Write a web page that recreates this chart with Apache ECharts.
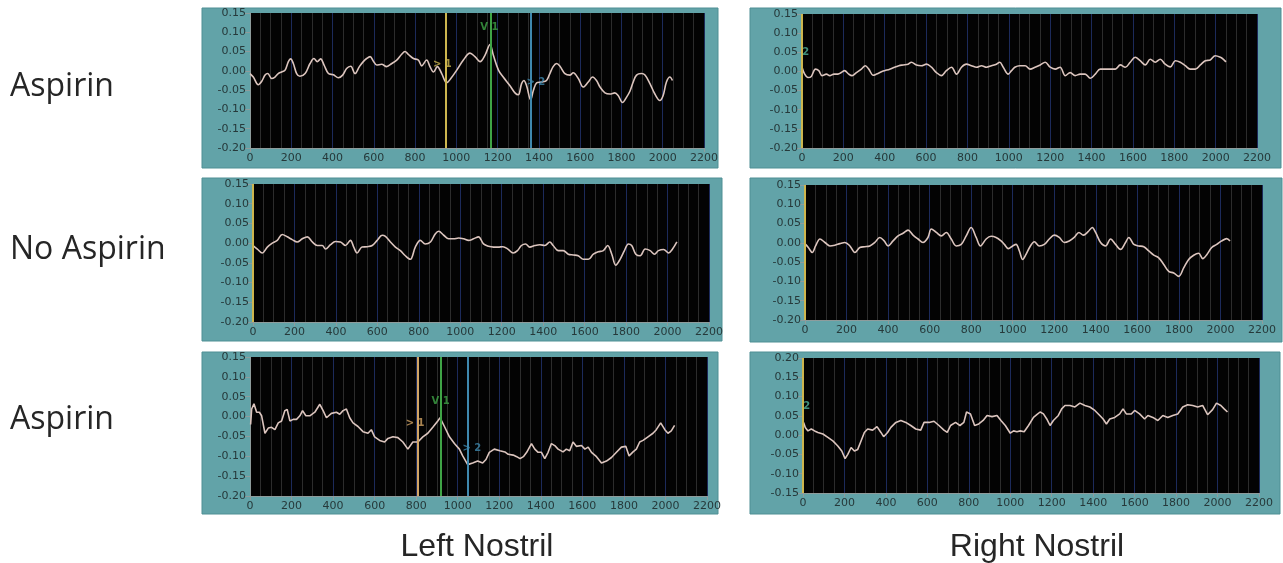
<!DOCTYPE html>
<html>
<head>
<meta charset="utf-8">
<script src="https://cdn.jsdelivr.net/npm/echarts@6/dist/echarts.min.js"></script>
<style>
  html, body { margin: 0; padding: 0; background: #fff; }
  #chart { width: 1283px; height: 563px; }
</style>
</head>
<body>
<div id="chart"></div>
<script>
// x ticks / y ticks
const xTicks = [0, 2200, 200]
const yRangeA = [-0.2, 0.15]
const yRangeB = [-0.15, 0.2]

const rowLabels = ['Aspirin', 'No Aspirin', 'Aspirin']
const colLabels = ['Left Nostril', 'Right Nostril']

// traces, [x, value]
const leftTop = [[0,-0.007],[16,-0.016],[40,-0.036],[57,-0.027],[73,-0.011],[86,-0.007],[105,-0.020],[121,-0.016],[137,-0.007],[153,-0.003],[170,0.002],[186,0.024],[197,0.031],[210,0.019],[226,-0.007],[242,-0.014],[267,-0.007],[291,0.019],[310,0.032],[326,0.024],[342,0.031],[359,0.015],[380,-0.007],[404,-0.010],[428,-0.018],[449,-0.011],[468,0.006],[488,0.012],[509,-0.007],[530,0.011],[549,0.024],[565,0.032],[582,0.037],[598,0.025],[614,0.015],[638,0.017],[662,0.011],[687,0.019],[711,0.028],[735,0.043],[751,0.050],[767,0.043],[792,0.032],[816,0.028],[832,0.013],[856,0.028],[872,0.011],[889,-0.003],[908,0.011],[929,-0.007],[953,-0.031],[973,-0.020],[1002,0.002],[1034,0.028],[1066,0.046],[1090,0.037],[1115,0.024],[1139,0.041],[1163,0.068],[1179,0.041],[1204,0.002],[1227,-0.016],[1259,-0.038],[1284,-0.057],[1300,-0.062],[1316,-0.033],[1327,-0.025],[1340,-0.038],[1360,-0.075],[1373,-0.051],[1389,-0.031],[1413,-0.029],[1437,-0.025],[1453,-0.007],[1469,0.011],[1486,0.019],[1502,0.012],[1526,-0.007],[1550,-0.011],[1566,-0.005],[1591,-0.020],[1615,-0.042],[1639,-0.029],[1660,-0.016],[1679,-0.025],[1696,-0.042],[1720,-0.057],[1744,-0.060],[1768,-0.057],[1784,-0.064],[1805,-0.082],[1825,-0.068],[1841,-0.053],[1857,-0.029],[1873,-0.011],[1897,-0.007],[1914,-0.011],[1938,-0.033],[1962,-0.060],[1986,-0.077],[2002,-0.064],[2018,-0.029],[2035,-0.016],[2047,-0.025]]

const rightTop = [[0,0.011],[13,-0.007],[29,-0.016],[45,-0.013],[65,0.006],[81,0.002],[97,-0.011],[118,-0.007],[134,-0.011],[155,-0.007],[174,-0.007],[190,-0.003],[206,0.002],[226,-0.007],[242,-0.011],[263,-0.003],[287,0.006],[306,0.015],[323,0.006],[344,-0.010],[360,-0.007],[384,-0.001],[400,0.002],[424,0.006],[448,0.011],[468,0.015],[489,0.017],[513,0.019],[529,0.024],[553,0.017],[577,0.015],[602,0.019],[626,0.011],[650,-0.003],[674,-0.011],[698,0.002],[723,0.011],[747,-0.007],[771,0.011],[795,0.019],[819,0.015],[844,0.011],[868,0.015],[892,0.011],[916,0.015],[940,0.019],[956,0.024],[973,0.011],[997,-0.007],[1013,0.002],[1029,0.011],[1053,0.015],[1079,0.015],[1103,0.006],[1127,0.011],[1152,0.017],[1176,0.024],[1200,0.011],[1224,0.006],[1248,0.011],[1273,-0.011],[1297,-0.003],[1321,-0.011],[1345,-0.007],[1369,-0.007],[1394,-0.018],[1418,-0.007],[1442,0.006],[1466,0.006],[1490,0.006],[1515,0.006],[1539,0.017],[1563,0.011],[1587,0.024],[1611,0.037],[1635,0.028],[1660,0.017],[1684,0.032],[1708,0.024],[1732,0.032],[1756,0.019],[1781,0.012],[1805,0.028],[1829,0.024],[1853,0.015],[1877,0.006],[1902,0.006],[1926,0.017],[1950,0.028],[1974,0.030],[1998,0.041],[2023,0.037],[2039,0.031],[2050,0.025]]

const leftMid = [[0,-0.006],[21,-0.015],[45,-0.025],[69,-0.010],[93,0.000],[117,0.007],[141,0.022],[165,0.016],[189,0.009],[213,0.003],[238,0.011],[262,0.016],[286,0.003],[310,-0.006],[334,-0.006],[350,-0.015],[374,-0.004],[398,0.004],[422,0.003],[446,-0.006],[470,0.007],[486,-0.010],[502,-0.025],[526,-0.010],[551,-0.009],[575,-0.006],[599,0.007],[623,0.020],[639,0.017],[663,0.003],[687,-0.010],[711,-0.019],[735,-0.032],[759,-0.041],[783,-0.010],[807,0.007],[831,-0.002],[856,0.003],[880,0.024],[896,0.030],[920,0.020],[944,0.011],[968,0.011],[992,0.013],[1016,0.011],[1040,0.007],[1064,0.011],[1088,0.016],[1112,-0.002],[1136,-0.008],[1161,-0.010],[1182,-0.010],[1206,-0.009],[1230,-0.015],[1255,-0.025],[1276,-0.019],[1295,-0.006],[1315,-0.002],[1335,-0.010],[1360,-0.006],[1384,-0.004],[1408,-0.006],[1432,0.003],[1448,-0.006],[1473,-0.019],[1497,-0.019],[1521,-0.028],[1545,-0.030],[1569,-0.032],[1594,-0.041],[1618,-0.041],[1642,-0.028],[1666,-0.022],[1690,-0.019],[1711,-0.006],[1731,-0.028],[1750,-0.056],[1771,-0.041],[1792,-0.019],[1811,-0.002],[1827,-0.006],[1847,-0.028],[1868,-0.032],[1892,-0.015],[1916,-0.019],[1937,-0.028],[1956,-0.019],[1981,-0.016],[2005,-0.025],[2024,-0.015],[2045,0.003]]

const rightMid = [[3,-0.004],[16,-0.012],[35,-0.025],[51,-0.008],[72,0.010],[96,0.001],[120,-0.008],[144,-0.006],[168,-0.002],[192,0.001],[216,-0.008],[240,-0.025],[264,-0.012],[288,-0.010],[312,-0.008],[336,0.001],[360,0.014],[381,0.005],[400,-0.008],[424,0.005],[448,0.018],[472,0.025],[496,0.033],[520,0.020],[544,0.010],[568,0.001],[592,0.014],[608,0.036],[632,0.027],[656,0.018],[680,0.027],[704,0.010],[728,-0.008],[752,-0.004],[776,0.018],[800,0.040],[824,0.014],[845,-0.008],[872,0.010],[896,0.017],[920,0.014],[944,0.005],[960,-0.004],[979,-0.015],[1000,-0.008],[1016,-0.004],[1032,-0.021],[1048,-0.043],[1064,-0.030],[1085,-0.008],[1104,0.003],[1128,-0.008],[1152,-0.004],[1176,0.010],[1200,0.020],[1224,0.014],[1248,0.001],[1272,0.005],[1296,0.014],[1319,0.027],[1340,0.020],[1363,0.029],[1383,0.040],[1399,0.027],[1423,0.001],[1447,-0.008],[1471,0.010],[1495,-0.004],[1519,-0.017],[1543,0.001],[1559,0.014],[1583,-0.004],[1607,-0.008],[1631,-0.010],[1655,-0.021],[1679,-0.032],[1703,-0.039],[1727,-0.056],[1751,-0.074],[1775,-0.078],[1799,-0.087],[1823,-0.065],[1847,-0.043],[1871,-0.032],[1895,-0.027],[1915,-0.041],[1935,-0.030],[1958,-0.012],[1982,-0.004],[2006,0.005],[2030,0.011],[2046,0.005]]

const leftBot = [[3,-0.020],[8,0.019],[19,0.032],[32,0.011],[45,0.011],[56,0.002],[72,-0.042],[88,-0.029],[104,-0.027],[120,-0.033],[136,-0.016],[152,-0.011],[168,0.015],[179,0.018],[192,-0.011],[208,-0.007],[224,-0.007],[240,0.002],[253,0.015],[269,0.002],[288,0.002],[312,0.011],[336,0.031],[352,0.015],[368,-0.003],[392,0.008],[416,0.011],[432,0.006],[448,0.015],[464,0.019],[480,-0.003],[496,-0.016],[520,-0.025],[544,-0.038],[568,-0.042],[584,-0.033],[600,-0.051],[624,-0.060],[648,-0.064],[664,-0.055],[688,-0.051],[712,-0.053],[736,-0.064],[760,-0.082],[784,-0.064],[808,-0.064],[832,-0.051],[856,-0.042],[880,-0.027],[904,-0.011],[915,-0.003],[936,-0.025],[960,-0.051],[984,-0.068],[1008,-0.082],[1024,-0.099],[1048,-0.121],[1072,-0.117],[1096,-0.112],[1120,-0.117],[1136,-0.108],[1152,-0.090],[1176,-0.082],[1203,-0.086],[1227,-0.089],[1243,-0.095],[1267,-0.097],[1284,-0.101],[1300,-0.106],[1316,-0.101],[1332,-0.090],[1355,-0.068],[1371,-0.082],[1387,-0.090],[1403,-0.090],[1419,-0.106],[1435,-0.090],[1451,-0.068],[1467,-0.073],[1483,-0.082],[1507,-0.089],[1523,-0.082],[1539,-0.086],[1555,-0.064],[1571,-0.075],[1596,-0.073],[1612,-0.082],[1628,-0.077],[1644,-0.090],[1668,-0.101],[1692,-0.117],[1716,-0.112],[1740,-0.103],[1764,-0.090],[1788,-0.077],[1809,-0.075],[1825,-0.099],[1844,-0.089],[1860,-0.082],[1876,-0.064],[1892,-0.060],[1916,-0.051],[1940,-0.042],[1956,-0.033],[1977,-0.016],[1997,-0.033],[2012,-0.042],[2028,-0.036],[2044,-0.022]]

const rightBot = [[3,0.033],[11,0.020],[24,0.011],[40,0.016],[56,0.011],[72,0.007],[96,0.003],[120,-0.006],[144,-0.015],[168,-0.028],[187,-0.041],[203,-0.061],[216,-0.050],[232,-0.032],[248,-0.041],[264,-0.037],[280,-0.015],[296,0.007],[312,0.016],[336,0.013],[357,0.022],[376,0.007],[389,-0.004],[408,0.007],[424,0.020],[448,0.033],[472,0.038],[496,0.033],[520,0.025],[544,0.016],[568,0.013],[584,0.033],[608,0.033],[632,0.036],[656,0.025],[680,0.013],[696,0.007],[712,0.025],[736,0.033],[757,0.025],[776,0.033],[789,0.060],[808,0.055],[828,0.025],[848,0.029],[869,0.038],[888,0.051],[912,0.048],[936,0.051],[955,0.038],[976,0.025],[1000,0.005],[1016,0.011],[1032,0.009],[1048,0.011],[1067,0.009],[1088,0.025],[1112,0.046],[1128,0.053],[1144,0.060],[1160,0.055],[1176,0.042],[1192,0.025],[1208,0.038],[1232,0.051],[1248,0.068],[1264,0.077],[1288,0.077],[1312,0.073],[1336,0.083],[1360,0.077],[1384,0.073],[1408,0.064],[1432,0.051],[1448,0.042],[1464,0.029],[1480,0.042],[1504,0.046],[1528,0.055],[1544,0.068],[1560,0.055],[1584,0.055],[1600,0.064],[1624,0.055],[1648,0.042],[1664,0.051],[1688,0.046],[1712,0.038],[1736,0.051],[1760,0.046],[1784,0.051],[1808,0.055],[1832,0.073],[1856,0.079],[1880,0.077],[1904,0.073],[1928,0.077],[1952,0.053],[1976,0.066],[1995,0.083],[2016,0.077],[2032,0.068],[2048,0.060]]

// cursors: [x, labelX, labelY, text, colour]
const cursorsLeftTop = [[950, 932, 0.017, '> 1', '#cdb64e'], [1168, 1160, 0.113, 'V 1', '#3fa446'], [1360, 1385, -0.03, '> 2', '#3f88ae']]
const cursorsLeftBot = [[808, 795, -0.018, '> 1', '#d2a464'], [918, 918, 0.039, 'V 1', '#3fa446'], [1050, 1068, -0.08, '> 2', '#3f88ae']]
const cursorsRight = [[0, 18, 0.05, '2', '#cdb64e']]
const cursorsRightBot = [[0, 18, 0.075, '2', '#cdb64e']]
const cursorsMid = [[0, null, null, '', '#cdb64e']]

const panels = [
  { data: leftTop, y: yRangeA, cursors: cursorsLeftTop, grid: [250, 13, 454, 135], frame: [202, 8, 516, 160], smooth: 0.35 },
  { data: rightTop, y: yRangeA, cursors: cursorsRight, grid: [802, 14, 455, 134], frame: [750, 8, 531, 160], smooth: 0.35 },
  { data: leftMid, y: yRangeA, cursors: cursorsMid, grid: [253, 184, 456, 138], frame: [202, 178, 520, 163], smooth: 0.35 },
  { data: rightMid, y: yRangeA, cursors: cursorsMid, grid: [805, 185, 457, 135], frame: [750, 178, 532, 164], smooth: 0.35 },
  { data: leftBot, y: yRangeA, cursors: cursorsLeftBot, grid: [250, 357, 457, 139], frame: [202, 352, 516, 162], smooth: false },
  { data: rightBot, y: yRangeB, cursors: cursorsRightBot, grid: [803, 358, 456, 135], frame: [750, 352, 530, 162], smooth: false }
]

const chart = echarts.init(document.getElementById('chart'))

const axisGray = '#8e9c9c'
const labelStyle = { color: '#26393a', fontSize: 11, fontFamily: 'DejaVu Sans' }

const grids = [], xAxes = [], yAxes = [], series = [], graphics = []

panels.forEach((p, i) => {
  grids.push({
    left: p.grid[0], top: p.grid[1], width: p.grid[2], height: p.grid[3],
    show: true, backgroundColor: '#030303', borderWidth: 0
  })
  xAxes.push({
    gridIndex: i, type: 'value', min: xTicks[0], max: xTicks[1], interval: xTicks[2],
    axisLine: { show: true, onZero: false, lineStyle: { color: axisGray } },
    axisTick: { show: true, length: 4, lineStyle: { color: axisGray } },
    axisLabel: Object.assign({ margin: 5, formatter: v => String(v) }, labelStyle),
    splitLine: { show: true, lineStyle: { color: '#1c2a5a', width: 1 } },
    minorTick: { show: true, splitNumber: 4, length: 0 },
    minorSplitLine: { show: true, lineStyle: { color: '#2c2c2c', width: 1 } }
  })
  yAxes.push({
    gridIndex: i, type: 'value', min: p.y[0], max: p.y[1], interval: 0.05,
    axisLine: { show: true, lineStyle: { color: axisGray } },
    axisTick: { show: true, length: 5, lineStyle: { color: axisGray } },
    axisLabel: Object.assign({
      margin: 4,
      formatter: v => (Math.abs(v) < 1e-9 ? 0 : v).toFixed(2)
    }, labelStyle),
    splitLine: { show: false }
  })
  series.push({
    type: 'line', xAxisIndex: i, yAxisIndex: i, data: p.data,
    showSymbol: false, smooth: p.smooth, silent: true,
    lineStyle: { color: '#dcc5be', width: 1.6 },
    markLine: {
      silent: true, symbol: ['none', 'none'], label: { show: false },
      data: p.cursors.map(c => ({ xAxis: c[0], lineStyle: { color: c[4], width: 2, type: 'solid' } }))
    },
    z: 3
  })
  const lbl = p.cursors.filter(c => c[3])
  if (lbl.length) {
    series.push({
      type: 'scatter', xAxisIndex: i, yAxisIndex: i, symbolSize: 0, silent: true,
      data: lbl.map(c => ({
        value: [c[1], c[2]],
        label: { show: true, formatter: c[3], color: c[3] === '2' ? '#4fb39a' : c[4], fontSize: 10, fontWeight: 'bold', fontFamily: 'DejaVu Sans' }
      })),
      z: 4
    })
  }
  graphics.push({
    type: 'rect', z: -10,
    shape: { x: p.frame[0], y: p.frame[1], width: p.frame[2], height: p.frame[3] },
    style: { fill: '#62a3a8', stroke: '#4f8f94', lineWidth: 1 }
  })
})

const rowY = [71, 234, 404]
const titles = rowLabels.map((t, i) => ({
  text: t, left: 10, top: rowY[i], padding: 0,
  textStyle: { fontFamily: 'Open Sans', fontSize: 32, fontWeight: 'normal', color: '#262626' }
}))
const colX = [477, 1037]
colLabels.forEach((t, i) => {
  titles.push({
    text: t, left: colX[i], top: 531, padding: 0, textAlign: 'center',
    textStyle: { fontFamily: 'Liberation Sans', fontSize: 32, fontWeight: 'normal', color: '#262626' }
  })
})

chart.setOption({
  animation: false,
  backgroundColor: '#ffffff',
  title: titles,
  grid: grids,
  xAxis: xAxes,
  yAxis: yAxes,
  series: series,
  graphic: { elements: graphics }
})
</script>
</body>
</html>
